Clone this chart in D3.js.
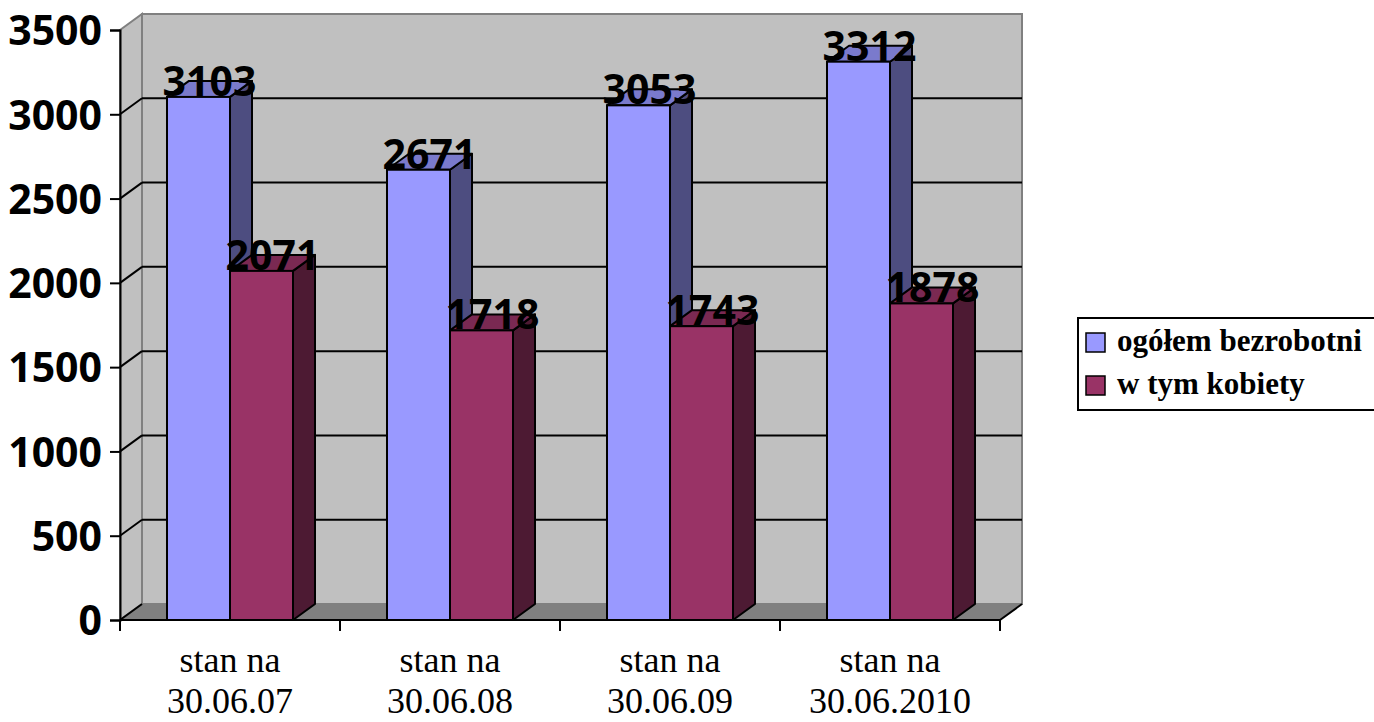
<!DOCTYPE html>
<html>
<head>
<meta charset="utf-8">
<script src="https://cdn.jsdelivr.net/npm/d3@7"></script>
<style>
  body { margin: 0; background: #fff; }
  svg { display: block; }
</style>
</head>
<body>
<div id="chart"></div>
<script>
// data
var categories = ["30.06.07", "30.06.08", "30.06.09", "30.06.2010"];
var series = ["ogółem bezrobotni", "w tym kobiety"];
var totalValues = [3103, 2671, 3053, 3312];
var womenValues = [2071, 1718, 1743, 1878];
var yTicks = [0, 500, 1000, 1500, 2000, 2500, 3000, 3500];

var width = 1374, height = 722;
var DX = 22, DY = -16; // depth of the 3d box

var colors = {
  "ogółem bezrobotni": { front: "#9999ff", side: "#4d4d80", top: "#7a7acc" },
  "w tym kobiety": { front: "#993366", side: "#4d1a33", top: "#7a2952" }
};

var svg = d3.select("#chart").append("svg")
  .attr("width", width)
  .attr("height", height);

var y = d3.scaleLinear().domain([0, 3500]).range([620, 30]);
var x0 = d3.scaleBand().domain(categories).range([120, 1000]).padding(0);
var x1 = d3.scaleBand().domain(series).range([0, x0.bandwidth()])
  .paddingInner(0).paddingOuter(0.746);

var left = x0.range()[0], right = x0.range()[1];
var y0 = y(0), yTop = y(3500);

function pts(a) { return a.map(function(p) { return p.join(","); }).join(" "); }

// back wall
svg.append("rect")
  .attr("x", left + DX).attr("y", yTop + DY)
  .attr("width", right - left).attr("height", y0 - yTop)
  .attr("fill", "#c0c0c0")
  .attr("stroke", "#808080").attr("stroke-width", 2);

// side wall
svg.append("polygon")
  .attr("points", pts([[left, yTop], [left + DX, yTop + DY], [left + DX, y0 + DY], [left, y0]]))
  .attr("fill", "#c0c0c0")
  .attr("stroke", "#808080").attr("stroke-width", 2);

// gridlines on back + side walls
var grid = svg.append("g");
yTicks.filter(function(d) { return d > 0 && d < 3500; }).forEach(function(t) {
  grid.append("line")
    .attr("x1", left + DX).attr("x2", right + DX)
    .attr("y1", y(t) + DY).attr("y2", y(t) + DY)
    .attr("stroke", "#000").attr("stroke-width", 2);
  grid.append("line")
    .attr("x1", left).attr("x2", left + DX)
    .attr("y1", y(t)).attr("y2", y(t) + DY)
    .attr("stroke", "#000").attr("stroke-width", 2);
});

// floor
svg.append("polygon")
  .attr("points", pts([[left, y0], [left + DX, y0 + DY], [right + DX, y0 + DY], [right, y0]]))
  .attr("fill", "#808080")
  .attr("stroke", "#808080").attr("stroke-width", 1);
svg.append("line")
  .attr("x1", left).attr("x2", left + DX).attr("y1", y0).attr("y2", y0 + DY)
  .attr("stroke", "#000").attr("stroke-width", 2);
svg.append("line")
  .attr("x1", right).attr("x2", right + DX).attr("y1", y0).attr("y2", y0 + DY)
  .attr("stroke", "#000").attr("stroke-width", 2);

// bars
var rows = [];
categories.forEach(function(c, i) {
  rows.push({ cat: c, s: series[0], v: totalValues[i] });
  rows.push({ cat: c, s: series[1], v: womenValues[i] });
});

var bars = svg.append("g").selectAll("g.bar")
  .data(rows).enter().append("g").attr("class", "bar");

bars.each(function(d) {
  var g = d3.select(this);
  var bx = x0(d.cat) + x1(d.s), bw = x1.bandwidth();
  var by = y(d.v);
  var col = colors[d.s];
  g.append("polygon")
    .attr("points", pts([[bx + bw, by], [bx + bw + DX, by + DY], [bx + bw + DX, y0 + DY], [bx + bw, y0]]))
    .attr("fill", col.side).attr("stroke", "#000").attr("stroke-width", 2)
    .attr("stroke-linejoin", "round");
  g.append("polygon")
    .attr("points", pts([[bx, by], [bx + DX, by + DY], [bx + bw + DX, by + DY], [bx + bw, by]]))
    .attr("fill", col.top).attr("stroke", "#000").attr("stroke-width", 2)
    .attr("stroke-linejoin", "round");
  g.append("rect")
    .attr("x", bx).attr("y", by).attr("width", bw).attr("height", y0 - by)
    .attr("fill", col.front).attr("stroke", "#000").attr("stroke-width", 2);
});

// value labels
svg.append("g").selectAll("text")
  .data(rows).enter().append("text")
  .attr("x", function(d) { return x0(d.cat) + x1(d.s) + x1.bandwidth() / 2 + DX / 2; })
  .attr("y", function(d) { return y(d.v) - 1; })
  .attr("text-anchor", "middle")
  .style("font-family", "'Open Sans', sans-serif")
  .style("font-weight", "bold")
  .style("font-size", "41px")
  .text(function(d) { return d.v; });

// y axis
var yAxis = svg.append("g")
  .attr("transform", "translate(" + left + ",0)")
  .call(d3.axisLeft(y).tickValues(yTicks).tickSize(10).tickPadding(8).tickFormat(d3.format("d")));
yAxis.select(".domain").attr("stroke", "#000").attr("stroke-width", 2);
yAxis.selectAll(".tick line").attr("stroke", "#000").attr("stroke-width", 2);
yAxis.selectAll(".tick text")
  .attr("dy", "0.36em")
  .style("font-family", "'Open Sans', sans-serif")
  .style("font-weight", "bold")
  .style("font-size", "41px")
  .attr("fill", "#000");

// x axis (front edge and category boundary ticks)
svg.append("line")
  .attr("x1", left).attr("x2", right).attr("y1", y0).attr("y2", y0)
  .attr("stroke", "#000").attr("stroke-width", 2);
var bounds = categories.map(function(c) { return x0(c); }).concat([right]);
svg.append("g").selectAll("line")
  .data(bounds).enter().append("line")
  .attr("x1", function(d) { return d; }).attr("x2", function(d) { return d; })
  .attr("y1", y0).attr("y2", y0 + 11)
  .attr("stroke", "#000").attr("stroke-width", 2);

var xl = svg.append("g").selectAll("text")
  .data(categories).enter().append("text")
  .attr("text-anchor", "middle")
  .style("font-family", "'Liberation Serif', 'Times New Roman', serif")
  .style("font-size", "36px")
  .attr("fill", "#000");
xl.append("tspan")
  .attr("x", function(d) { return x0(d) + x0.bandwidth() / 2; })
  .attr("y", 672)
  .text("stan na");
xl.append("tspan")
  .attr("x", function(d) { return x0(d) + x0.bandwidth() / 2; })
  .attr("y", 713)
  .text(function(d) { return d; });

// legend
var legend = svg.append("g").attr("transform", "translate(1078,318)");
legend.append("rect")
  .attr("x", 0).attr("y", 0).attr("width", 310).attr("height", 92)
  .attr("fill", "#fff").attr("stroke", "#000").attr("stroke-width", 2);
series.forEach(function(s, i) {
  legend.append("rect")
    .attr("x", 8).attr("y", 15 + i * 43).attr("width", 19).attr("height", 19)
    .attr("fill", colors[s].front).attr("stroke", "#000").attr("stroke-width", 1.5);
  legend.append("text")
    .attr("x", 39).attr("y", 33 + i * 43)
    .style("font-family", "'Liberation Serif', 'Times New Roman', serif")
    .style("font-weight", "bold")
    .style("font-size", "31px")
    .attr("fill", "#000")
    .text(s);
});
</script>
</body>
</html>
